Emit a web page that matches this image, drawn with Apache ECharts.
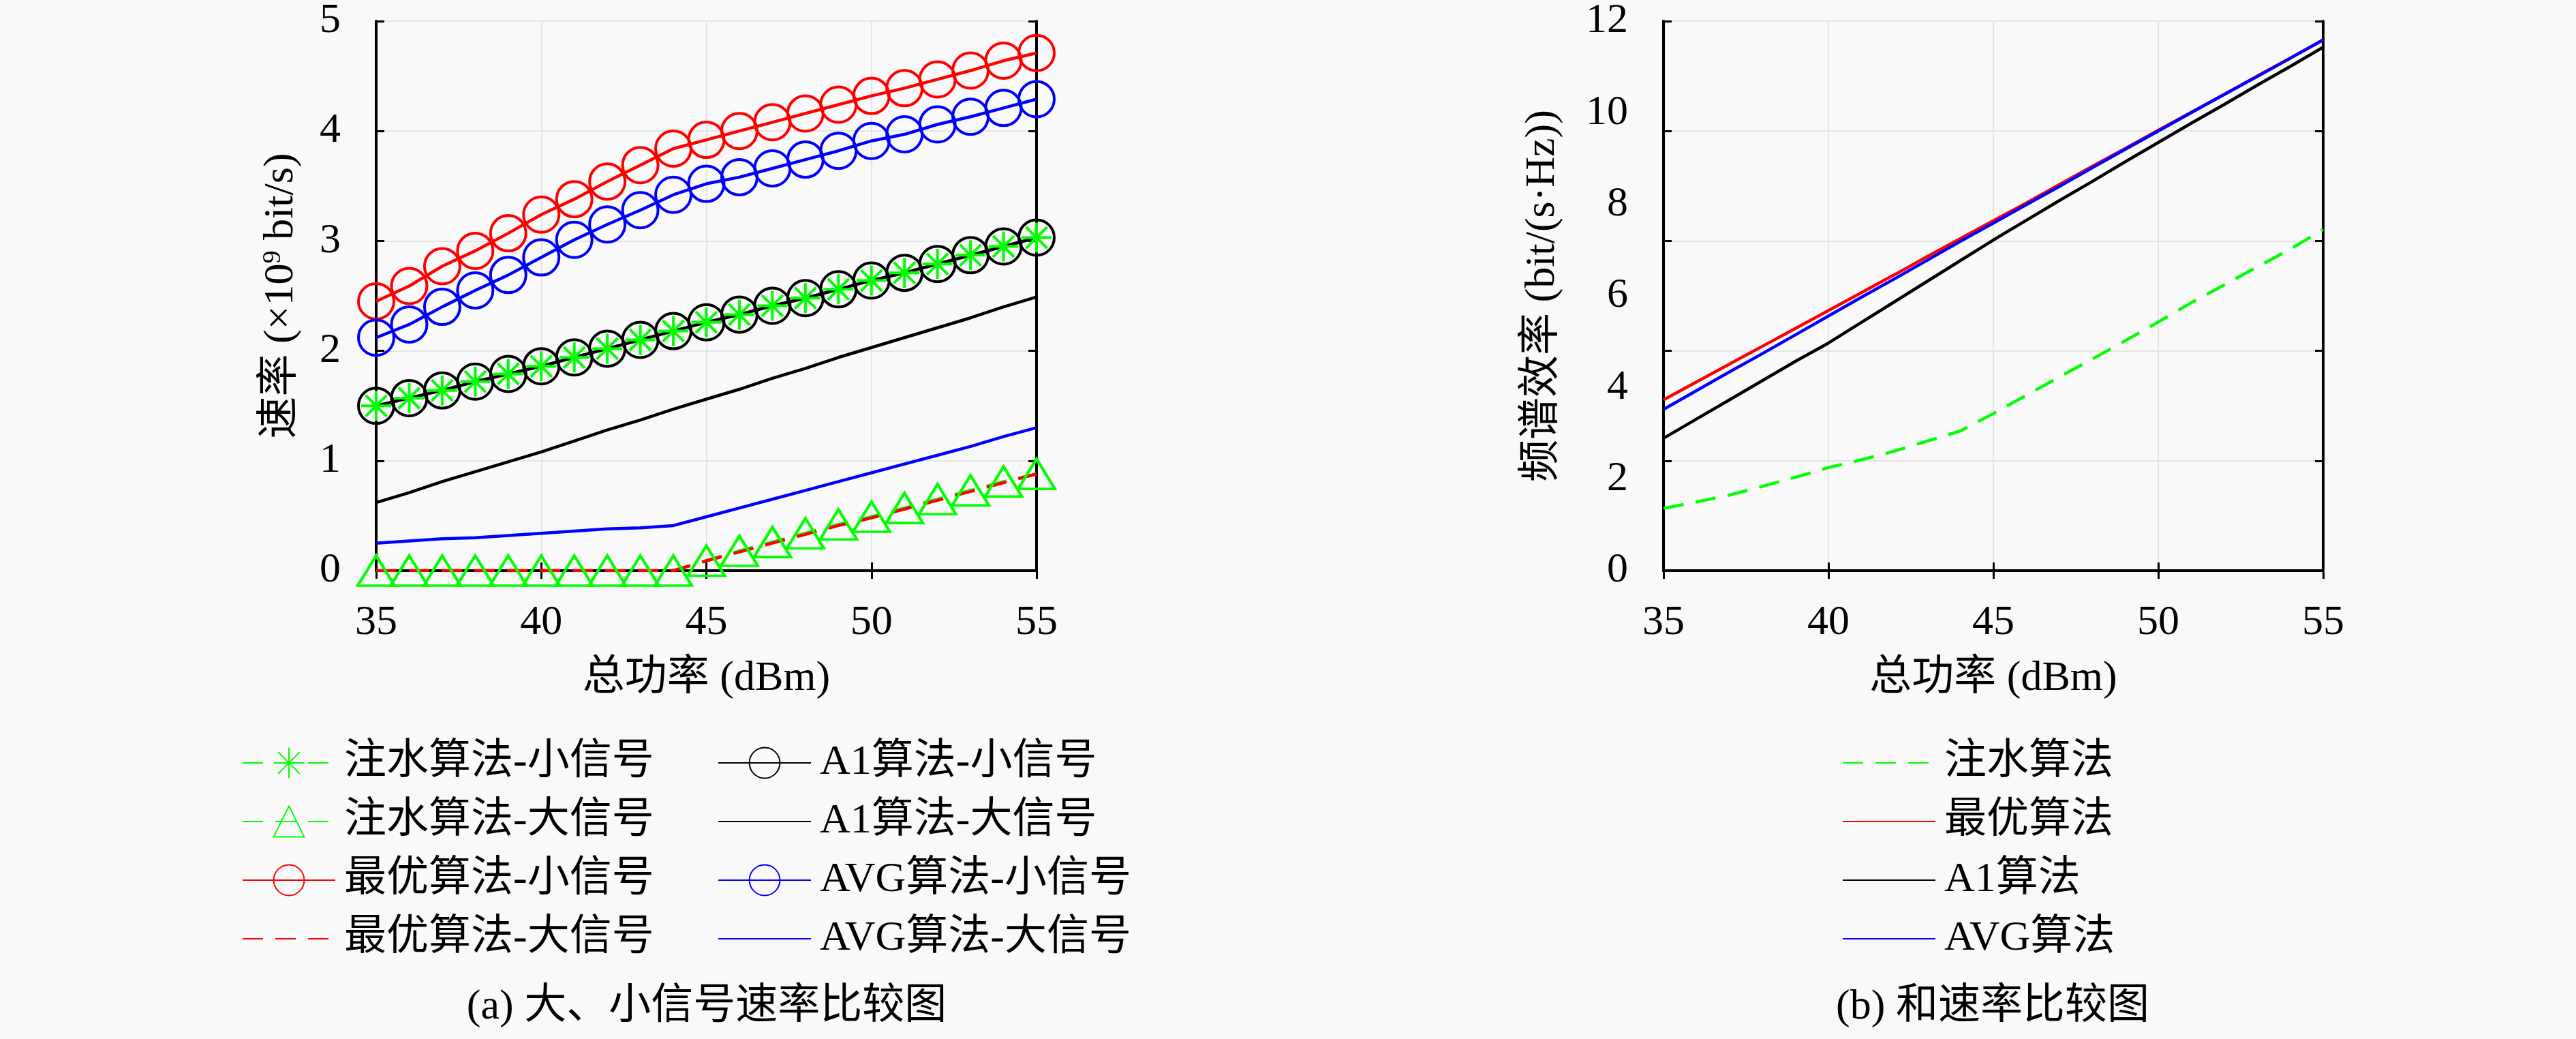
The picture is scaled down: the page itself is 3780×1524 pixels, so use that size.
<!DOCTYPE html>
<html>
<head>
<meta charset="utf-8">
<title>速率比较图</title>
<script src="https://cdn.jsdelivr.net/npm/echarts@6/dist/echarts.min.js"></script>
<style>
  body { margin: 0; background: #f9f9f9; }
  #chart { width: 3780px; height: 1524px; }
</style>
</head>
<body>
<div id="chart"></div>
<script>
// x values shared by every curve (dBm)
var powerDbm = [35, 36, 37, 38, 39, 40, 41, 42, 43, 44, 45, 46, 47, 48, 49, 50, 51, 52, 53, 54, 55];

// (a) rates, x10^9 bit/s
var wfSmall  = [1.50, 1.57, 1.64, 1.72, 1.79, 1.86, 1.94, 2.02, 2.10, 2.18, 2.26, 2.33, 2.41, 2.48, 2.56, 2.64, 2.71, 2.79, 2.87, 2.95, 3.03];
var wfLarge  = [0, 0, 0, 0, 0, 0, 0, 0, 0, 0, 0.09, 0.18, 0.26, 0.34, 0.42, 0.49, 0.57, 0.65, 0.73, 0.81, 0.88];
var optSmall = [2.45, 2.59, 2.77, 2.91, 3.07, 3.24, 3.38, 3.54, 3.69, 3.84, 3.92, 4.00, 4.08, 4.16, 4.24, 4.32, 4.39, 4.47, 4.55, 4.64, 4.71];
var optLarge = [0, 0, 0, 0, 0, 0, 0, 0, 0, 0, 0.09, 0.17, 0.25, 0.33, 0.41, 0.48, 0.56, 0.64, 0.72, 0.80, 0.88];
var a1Small  = [1.50, 1.57, 1.64, 1.72, 1.79, 1.86, 1.94, 2.02, 2.10, 2.18, 2.26, 2.33, 2.41, 2.48, 2.56, 2.64, 2.71, 2.79, 2.87, 2.95, 3.03];
var a1Large  = [0.62, 0.71, 0.81, 0.90, 0.99, 1.08, 1.18, 1.28, 1.37, 1.47, 1.56, 1.65, 1.75, 1.84, 1.94, 2.03, 2.12, 2.21, 2.30, 2.40, 2.49];
var avgSmall = [2.12, 2.24, 2.40, 2.55, 2.69, 2.85, 3.01, 3.15, 3.28, 3.42, 3.52, 3.58, 3.66, 3.74, 3.82, 3.91, 3.97, 4.06, 4.13, 4.21, 4.29];
var avgLarge = [0.25, 0.27, 0.29, 0.30, 0.32, 0.34, 0.36, 0.38, 0.39, 0.41, 0.49, 0.57, 0.65, 0.73, 0.81, 0.89, 0.97, 1.05, 1.13, 1.22, 1.30];

// (b) spectral efficiency, bit/(s·Hz)
var wfSum  = [1.36, 1.50, 1.65, 1.84, 2.04, 2.25, 2.42, 2.61, 2.83, 3.05, 3.43, 3.83, 4.23, 4.62, 5.02, 5.43, 5.85, 6.24, 6.63, 7.02, 7.45];
var optSum = [3.73, 4.12, 4.51, 4.90, 5.29, 5.68, 6.07, 6.46, 6.86, 7.25, 7.64, 8.03, 8.43, 8.83, 9.22, 9.62, 10.01, 10.40, 10.80, 11.19, 11.59];
var a1Sum  = [2.89, 3.31, 3.73, 4.15, 4.57, 4.97, 5.42, 5.87, 6.32, 6.77, 7.22, 7.65, 8.08, 8.50, 8.93, 9.35, 9.77, 10.18, 10.60, 11.01, 11.43];
var avgSum = [3.52, 3.93, 4.34, 4.74, 5.15, 5.56, 5.97, 6.37, 6.78, 7.19, 7.59, 7.99, 8.39, 8.80, 9.20, 9.60, 10.00, 10.40, 10.79, 11.19, 11.59];

var legendA1 = ['注水算法-小信号', '注水算法-大信号', '最优算法-小信号', '最优算法-大信号'];
var legendA2 = ['A1算法-小信号', 'A1算法-大信号', 'AVG算法-小信号', 'AVG算法-大信号'];
var legendB  = ['注水算法', '最优算法', 'A1算法', 'AVG算法'];

var FONT = "'Liberation Serif', 'Noto Sans CJK SC', serif";
var GREEN = '#00ff00', RED = '#ff0000', BLUE = '#0000ff', BLACK = '#000000';
var STAR = 'path://M10,0 L10,20 M0,10 L20,10 M2.93,2.93 L17.07,17.07 M2.93,17.07 L17.07,2.93';
var DASH = [30, 18];

function pairs(vals) {
  return powerDbm.map(function (p, i) { return [p, vals[i]]; });
}

function curve(name, grid, vals, color, dashed, symbol, size) {
  return {
    name: name,
    type: 'line',
    xAxisIndex: grid === 0 ? 0 : 2,
    yAxisIndex: grid === 0 ? 0 : 2,
    data: pairs(vals),
    symbol: symbol || 'none',
    symbolSize: size || 0,
    showSymbol: !!symbol,
    lineStyle: { color: color, width: 4.5, type: dashed ? DASH : 'solid' },
    // no marker -> keep the legend's default circle invisible
    itemStyle: symbol
      ? { color: 'transparent', borderColor: color, borderWidth: 4 }
      : { color: 'transparent', borderColor: 'transparent', borderWidth: 0 },
    emphasis: { disabled: true }
  };
}

function bottomAxis(grid, withName) {
  return {
    type: 'value', gridIndex: grid, position: 'bottom',
    min: 35, max: 55, interval: 5,
    name: withName ? '总功率 (dBm)' : '',
    nameLocation: 'middle', nameGap: 128,
    nameTextStyle: { fontFamily: FONT, fontSize: 62, color: BLACK },
    axisLine: { show: true, lineStyle: { color: BLACK, width: 4 } },
    axisTick: { show: true, inside: true, length: 12, lineStyle: { color: BLACK, width: 3 } },
    axisLabel: { show: true, margin: 46, fontFamily: FONT, fontSize: 62, color: BLACK },
    splitLine: { show: true, lineStyle: { color: '#e4e4e4', width: 2 } }
  };
}

function topAxis(grid) {
  return {
    type: 'value', gridIndex: grid, position: 'top',
    min: 35, max: 55, interval: 5,
    axisLine: { show: true, lineStyle: { color: BLACK, width: 4 } },
    axisTick: { show: true, inside: true, length: 12, lineStyle: { color: BLACK, width: 3 } },
    axisLabel: { show: false },
    splitLine: { show: false }
  };
}

function sideAxis(grid, pos, max, interval, opts) {
  return {
    type: 'value', gridIndex: grid, position: pos,
    min: 0, max: max, interval: interval,
    name: opts.name || '',
    nameLocation: 'middle', nameGap: opts.nameGap || 0,
    nameTextStyle: {
      fontFamily: FONT, fontSize: 62, color: BLACK,
      rich: { sup: { fontFamily: FONT, fontSize: 38, color: BLACK, verticalAlign: 'top' } }
    },
    axisLine: { show: true, lineStyle: { color: BLACK, width: 4 } },
    axisTick: { show: !!opts.ticks, inside: true, length: 12, lineStyle: { color: BLACK, width: 3 } },
    axisLabel: { show: !!opts.labels, margin: 52, fontFamily: FONT, fontSize: 62, color: BLACK },
    splitLine: { show: !!opts.split, lineStyle: { color: '#e4e4e4', width: 2 } }
  };
}

function legendBlock(names, left, top) {
  return {
    data: names, orient: 'vertical', left: left, top: top,
    itemWidth: 136, itemHeight: 56, itemGap: 24,
    selectedMode: false,
    textStyle: { fontFamily: FONT, fontSize: 62, color: BLACK, padding: [0, 0, 0, 8] }
  };
}

var chart = echarts.init(document.getElementById('chart'));
var option = {
  backgroundColor: '#f9f9f9',
  animation: false,
  grid: [
    { left: 552, right: 2259, top: 29, bottom: 687 },
    { left: 2441, right: 371, top: 29, bottom: 687 }
  ],
  xAxis: [bottomAxis(0, true), topAxis(0), bottomAxis(1, true), topAxis(1)],
  yAxis: [
    sideAxis(0, 'left', 5, 1, { labels: true, ticks: true, split: true, name: '速率 (×10{sup|9} bit/s)', nameGap: 108 }),
    sideAxis(0, 'right', 5, 1, { ticks: true }),
    // (b): labels every 2, but the drawn ticks/grid fall every 2.4 as in the figure
    sideAxis(1, 'left', 12, 2, { labels: true, name: '频谱效率 (bit/(s·Hz))', nameGap: 146 }),
    sideAxis(1, 'left', 12, 2.4, { ticks: true, split: true }),
    sideAxis(1, 'right', 12, 2.4, { ticks: true })
  ],
  legend: [
    legendBlock(legendA1, 350, 1083),
    legendBlock(legendA2, 1048, 1083),
    legendBlock(legendB, 2698, 1083)
  ],
  graphic: [
    { type: 'text', x: 1037, y: 1478, style: { text: '(a) 大、小信号速率比较图', font: "62px " + FONT, fill: BLACK, textAlign: 'center', textVerticalAlign: 'middle' } },
    { type: 'text', x: 2924, y: 1478, style: { text: '(b) 和速率比较图', font: "62px " + FONT, fill: BLACK, textAlign: 'center', textVerticalAlign: 'middle' } }
  ],
  series: [
    curve(legendA1[0], 0, wfSmall, GREEN, true, STAR, 44),
    curve(legendA1[1], 0, wfLarge, GREEN, true, 'triangle', [54, 44]),
    curve(legendA1[2], 0, optSmall, RED, false, 'circle', 52),
    curve(legendA1[3], 0, optLarge, RED, true),
    curve(legendA2[0], 0, a1Small, BLACK, false, 'circle', 52),
    curve(legendA2[1], 0, a1Large, BLACK, false),
    curve(legendA2[2], 0, avgSmall, BLUE, false, 'circle', 52),
    curve(legendA2[3], 0, avgLarge, BLUE, false),
    curve(legendB[0], 1, wfSum, GREEN, true),
    curve(legendB[1], 1, optSum, RED, false),
    curve(legendB[2], 1, a1Sum, BLACK, false),
    curve(legendB[3], 1, avgSum, BLUE, false)
  ]
};
chart.setOption(option);
</script>
</body>
</html>
